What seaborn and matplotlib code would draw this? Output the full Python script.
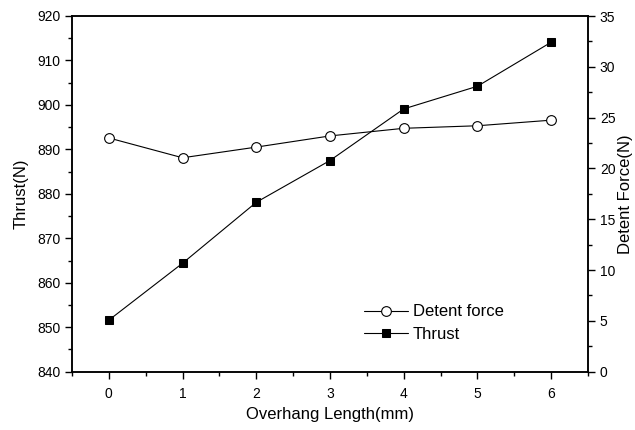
import matplotlib
matplotlib.use("Agg")
import matplotlib.pyplot as plt
from matplotlib.ticker import MultipleLocator
import seaborn as sns
import pandas as pd

overhang_mm = [0, 1, 2, 3, 4, 5, 6]
thrust_n = [851.6, 864.4, 878.1, 887.5, 899.1, 904.2, 914.1]
detent_force_n = [23.0, 21.05, 22.1, 23.2, 23.95, 24.2, 24.75]

df = pd.DataFrame({"overhang": overhang_mm, "thrust": thrust_n, "detent": detent_force_n})

sns.set_theme(style="ticks")
plt.rcParams["font.family"] = ["Liberation Sans", "DejaVu Sans"]
plt.rcParams["text.color"] = "black"
plt.rcParams["axes.labelcolor"] = "black"

fig = plt.figure(figsize=(6.35, 4.3), dpi=100)
ax = fig.add_axes([72 / 635, 1 - 371.7 / 430, (588 - 72) / 635, (371.7 - 16) / 430])
ax2 = ax.twinx()

sns.lineplot(data=df, x="overhang", y="thrust", ax=ax, color="black", lw=0.8,
             marker="s", markersize=6, markeredgecolor="black", markerfacecolor="black",
             label="Thrust", legend=False)
sns.lineplot(data=df, x="overhang", y="detent", ax=ax2, color="black", lw=0.8,
             marker="o", markersize=7, markeredgecolor="black", markerfacecolor="white",
             markeredgewidth=0.8, label="Detent force", legend=False)

ax.set_xlim(-0.5, 6.5)
ax.set_ylim(840, 920)
ax2.set_ylim(0, 35)

ax.xaxis.set_major_locator(MultipleLocator(1))
ax.xaxis.set_minor_locator(MultipleLocator(0.5))
ax.yaxis.set_major_locator(MultipleLocator(10))
ax.yaxis.set_minor_locator(MultipleLocator(5))
ax2.yaxis.set_major_locator(MultipleLocator(5))
ax2.yaxis.set_minor_locator(MultipleLocator(2.5))

for a in (ax, ax2):
    for s in a.spines.values():
        s.set_color("black")
        s.set_linewidth(1.1)
    a.tick_params(which="major", direction="out", length=5, width=1.0, colors="black",
                  labelsize=10)
    a.tick_params(which="minor", direction="out", length=3, width=1.0, colors="black")
ax.tick_params(axis="x", pad=6)

ax.set_xlabel("Overhang Length(mm)", fontsize=12, labelpad=4)
ax.set_ylabel("Thrust(N)", fontsize=12, labelpad=6)
ax2.set_ylabel("Detent Force(N)", fontsize=12, labelpad=2)

h1, l1 = ax.get_legend_handles_labels()
h2, l2 = ax2.get_legend_handles_labels()
fig.legend(h2 + h1, l2 + l1, loc="upper left", bbox_to_anchor=(356 / 635, 1 - 296 / 430),
           frameon=False, fontsize=12, borderpad=0, handlelength=2.6,
           handletextpad=0.3, labelspacing=0.45)

fig.savefig("out.png", dpi=100, facecolor="white")
